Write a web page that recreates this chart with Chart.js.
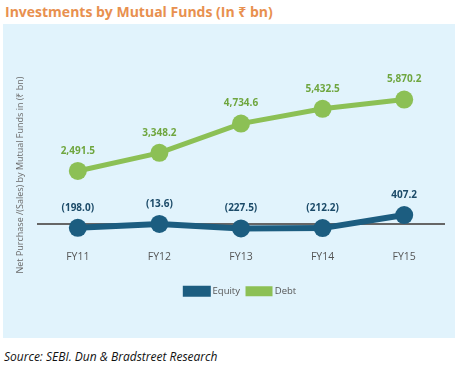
<!DOCTYPE html>
<html>
<head>
<meta charset="utf-8">
<script src="https://cdn.jsdelivr.net/npm/chart.js@4"></script>
<style>
  body { margin: 0; background: #ffffff; }
  #title { position: absolute; left: 5px; top: 2px; font-size: 14px; font-weight: bold; color: #E8904F; font-family: "Open Sans", "Noto Sans", sans-serif; }
  #panel { position: absolute; left: 3px; top: 24px; width: 452px; height: 314px; background: #E1F3FC; }
  #source { position: absolute; left: 4px; top: 348px; font-size: 12px; font-style: italic; color: #111; font-family: "Open Sans", "Noto Sans", sans-serif; }
</style>
</head>
<body>
<div id="title">Investments by Mutual Funds (In ₹ bn)</div>
<div id="panel"><canvas id="mfChart" width="452" height="314"></canvas></div>
<div id="source">Source: SEBI. Dun &amp; Bradstreet Research</div>
<script>
// values
const years = ["FY11", "FY12", "FY13", "FY14", "FY15"];
const equity = [-198.0, -13.6, -227.5, -212.2, 407.2];
const debt = [2491.5, 3348.2, 4734.6, 5432.5, 5870.2];

const equityColor = "#1C5D80";
const debtColor = "#8CC055";
const yTitle = "Net Purchase /(Sales) by Mutual Funds in (₹ bn)";

function fmt(v) {
  const s = Math.abs(v).toLocaleString("en-US", { minimumFractionDigits: 1, maximumFractionDigits: 1 });
  return v < 0 ? "(" + s + ")" : s;
}

// draws the value above each point
const valueLabels = {
  id: "valueLabels",
  afterDatasetsDraw(chart) {
    const ctx = chart.ctx;
    ctx.save();
    ctx.font = "bold 10px 'Open Sans', sans-serif";
    ctx.textAlign = "center";
    ctx.textBaseline = "middle";
    chart.data.datasets.forEach((ds, i) => {
      const meta = chart.getDatasetMeta(i);
      ctx.fillStyle = ds.labelColor;
      meta.data.forEach((pt, j) => {
        ctx.fillText(fmt(ds.data[j]), pt.x, pt.y - 20);
      });
    });
    ctx.restore();
  },
};

// rotated axis title on the left side of the panel
const sideTitle = {
  id: "sideTitle",
  afterDraw(chart) {
    const ctx = chart.ctx;
    ctx.save();
    ctx.translate(17, 151);
    ctx.rotate(-Math.PI / 2);
    ctx.font = "9px 'Open Sans', sans-serif";
    ctx.fillStyle = "#6b6b6b";
    ctx.textAlign = "center";
    ctx.textBaseline = "middle";
    ctx.fillText(yTitle, 0, 0);
    ctx.restore();
  },
};

const ctx = document.getElementById("mfChart").getContext("2d");
window.mfChart = new Chart(ctx, {
  type: "line",
  data: {
    labels: years,
    datasets: [
      {
        label: "Equity",
        data: equity,
        borderColor: equityColor,
        backgroundColor: equityColor,
        labelColor: "#1B4A68",
        borderWidth: 6,
        pointRadius: 9,
        pointHoverRadius: 9,
        pointBackgroundColor: equityColor,
        pointBorderWidth: 0,
        tension: 0,
      },
      {
        label: "Debt",
        data: debt,
        borderColor: debtColor,
        backgroundColor: debtColor,
        labelColor: "#6FA63F",
        borderWidth: 5,
        pointRadius: 9,
        pointHoverRadius: 9,
        pointBackgroundColor: debtColor,
        pointBorderWidth: 0,
        tension: 0,
      },
    ],
  },
  options: {
    responsive: false,
    animation: false,
    layout: { padding: { left: 34, right: 10, top: 20, bottom: 32 } },
    scales: {
      x: {
        offset: true,
        grid: { display: false },
        border: { display: false },
        ticks: { color: "#555555", font: { size: 10.5, family: "'Open Sans', sans-serif" }, padding: -1 },
        // blank title only adds room between the labels and the legend
        title: { display: true, text: " ", font: { size: 1 }, padding: { top: 0, bottom: 15 } },
      },
      y: {
        min: -950,
        max: 8500,
        border: { display: false },
        grid: {
          drawTicks: false,
          lineWidth: 2,
          color: (c) => (c.tick && c.tick.value === 0 ? "#666666" : "rgba(0,0,0,0)"),
        },
        ticks: { display: false },
        afterBuildTicks: (axis) => {
          axis.ticks = [{ value: 0 }];
        },
      },
    },
    plugins: {
      legend: {
        position: "bottom",
        labels: {
          color: "#555555",
          font: { size: 9.5, family: "'Open Sans', sans-serif" },
          boxWidth: 22,
          boxHeight: 5,
          padding: 8,
        },
      },
      tooltip: { enabled: false },
    },
  },
  plugins: [valueLabels, sideTitle],
});
</script>
</body>
</html>
